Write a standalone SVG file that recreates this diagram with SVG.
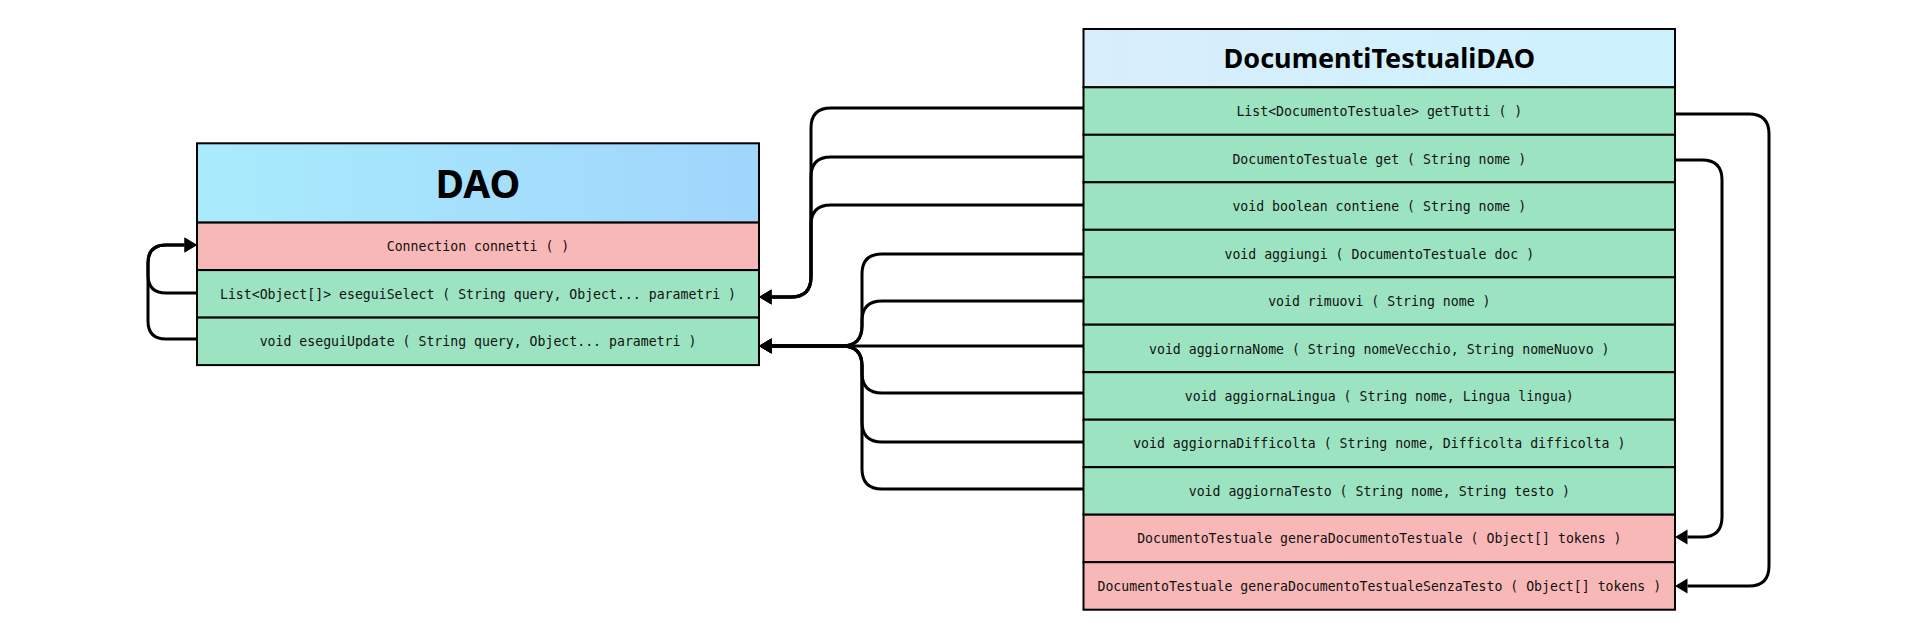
<svg xmlns="http://www.w3.org/2000/svg" width="1920" height="635" viewBox="0 0 1920 635">
<defs>
<linearGradient id="gDao" x1="0" y1="0" x2="1" y2="0"><stop offset="0" stop-color="#a9ebfc"/><stop offset="1" stop-color="#a0d5fc"/></linearGradient>
<linearGradient id="gDt" x1="0" y1="0" x2="1" y2="0"><stop offset="0" stop-color="#d9edfc"/><stop offset="1" stop-color="#ccf2fd"/></linearGradient>
<marker id="arr" markerUnits="userSpaceOnUse" markerWidth="14" markerHeight="18" refX="0" refY="8" orient="auto" overflow="visible">
<path d="M0,0.5 L12.5,8 L0,15.5 Z" fill="#000"/>
</marker>
<style>
.box rect{stroke:#000;stroke-width:2}
.pk{fill:#f8b8b8}
.gr{fill:#9ce3c2}
.title{font-family:"Noto Sans","Open Sans",sans-serif;font-weight:bold;fill:#000;text-anchor:middle}
.m{font-family:"DejaVu Sans Mono","Liberation Mono",monospace;font-size:13.2px;fill:#111;text-anchor:middle}
.c{fill:none;stroke:#000;stroke-width:3}
</style>
</defs>
<rect width="1920" height="635" fill="#fff"/>

<g id="DAO" class="box">
<rect x="197" y="143.3" width="562" height="79.3" fill="url(#gDao)"/>
<rect class="pk" x="197" y="222.6" width="562" height="47.5"/>
<rect class="gr" x="197" y="270.1" width="562" height="47.5"/>
<rect class="gr" x="197" y="317.6" width="562" height="47.5"/>
<text class="title" x="478" y="198" font-size="39">DAO</text>
<text class="m" x="478" y="251.3">Connection connetti ( )</text>
<text class="m" x="478" y="298.8">List&lt;Object[]&gt; eseguiSelect ( String query, Object... parametri )</text>
<text class="m" x="478" y="346.3">void eseguiUpdate ( String query, Object... parametri )</text>
</g>

<g id="DocumentiTestualiDAO" class="box">
<rect x="1083.5" y="29" width="591.5" height="58.3" fill="url(#gDt)"/>
<rect class="gr" x="1083.5" y="87.3" width="591.5" height="47.5"/>
<rect class="gr" x="1083.5" y="134.8" width="591.5" height="47.5"/>
<rect class="gr" x="1083.5" y="182.3" width="591.5" height="47.5"/>
<rect class="gr" x="1083.5" y="229.8" width="591.5" height="47.5"/>
<rect class="gr" x="1083.5" y="277.3" width="591.5" height="47.4"/>
<rect class="gr" x="1083.5" y="324.7" width="591.5" height="47.5"/>
<rect class="gr" x="1083.5" y="372.2" width="591.5" height="47.5"/>
<rect class="gr" x="1083.5" y="419.7" width="591.5" height="47.5"/>
<rect class="gr" x="1083.5" y="467.2" width="591.5" height="47.5"/>
<rect class="pk" x="1083.5" y="514.7" width="591.5" height="47.5"/>
<rect class="pk" x="1083.5" y="562.2" width="591.5" height="47.5"/>
<text class="title" x="1379.3" y="68.3" font-size="27">DocumentiTestualiDAO</text>
<text class="m" x="1379.3" y="116">List&lt;DocumentoTestuale&gt; getTutti ( )</text>
<text class="m" x="1379.3" y="163.5">DocumentoTestuale get ( String nome )</text>
<text class="m" x="1379.3" y="211">void boolean contiene ( String nome )</text>
<text class="m" x="1379.3" y="258.5">void aggiungi ( DocumentoTestuale doc )</text>
<text class="m" x="1379.3" y="306">void rimuovi ( String nome )</text>
<text class="m" x="1379.3" y="353.5">void aggiornaNome ( String nomeVecchio, String nomeNuovo )</text>
<text class="m" x="1379.3" y="401">void aggiornaLingua ( String nome, Lingua lingua)</text>
<text class="m" x="1379.3" y="448.4">void aggiornaDifficolta ( String nome, Difficolta difficolta )</text>
<text class="m" x="1379.3" y="495.9">void aggiornaTesto ( String nome, String testo )</text>
<text class="m" x="1379.3" y="543.4">DocumentoTestuale generaDocumentoTestuale ( Object[] tokens )</text>
<text class="m" x="1379.3" y="590.9">DocumentoTestuale generaDocumentoTestualeSenzaTesto ( Object[] tokens )</text>
</g>

<g id="connectors">
<path class="c" marker-end="url(#arr)" d="M1083.5,108 H831 Q811,108 811,128 V277 Q811,297 791,297 H771.5"/>
<path class="c" marker-end="url(#arr)" d="M1083.5,157 H831 Q811,157 811,177 V277 Q811,297 791,297 H771.5"/>
<path class="c" marker-end="url(#arr)" d="M1083.5,205 H831 Q811,205 811,225 V277 Q811,297 791,297 H771.5"/>
<path class="c" marker-end="url(#arr)" d="M1083.5,254 H882 Q862,254 862,274 V326 Q862,346 842,346 H771.5"/>
<path class="c" marker-end="url(#arr)" d="M1083.5,301 H882 Q862,301 862,321 V326 Q862,346 842,346 H771.5"/>
<path class="c" marker-end="url(#arr)" d="M1083.5,346 H771.5"/>
<path class="c" marker-end="url(#arr)" d="M1083.5,393 H882 Q862,393 862,373 V366 Q862,346 842,346 H771.5"/>
<path class="c" marker-end="url(#arr)" d="M1083.5,442 H882 Q862,442 862,422 V366 Q862,346 842,346 H771.5"/>
<path class="c" marker-end="url(#arr)" d="M1083.5,489 H882 Q862,489 862,469 V366 Q862,346 842,346 H771.5"/>
<path class="c" marker-end="url(#arr)" d="M197,293 H166 Q148,293 148,275 V263 Q148,245 166,245 H184.5"/>
<path class="c" marker-end="url(#arr)" d="M197,339 H166 Q148,339 148,321 V263 Q148,245 166,245 H184.5"/>
<path class="c" marker-end="url(#arr)" d="M1675,114 H1749 Q1769,114 1769,134 V566 Q1769,586 1749,586 H1687.5"/>
<path class="c" marker-end="url(#arr)" d="M1675,160 H1702 Q1722,160 1722,180 V517 Q1722,537 1702,537 H1687.5"/>
</g>
</svg>
